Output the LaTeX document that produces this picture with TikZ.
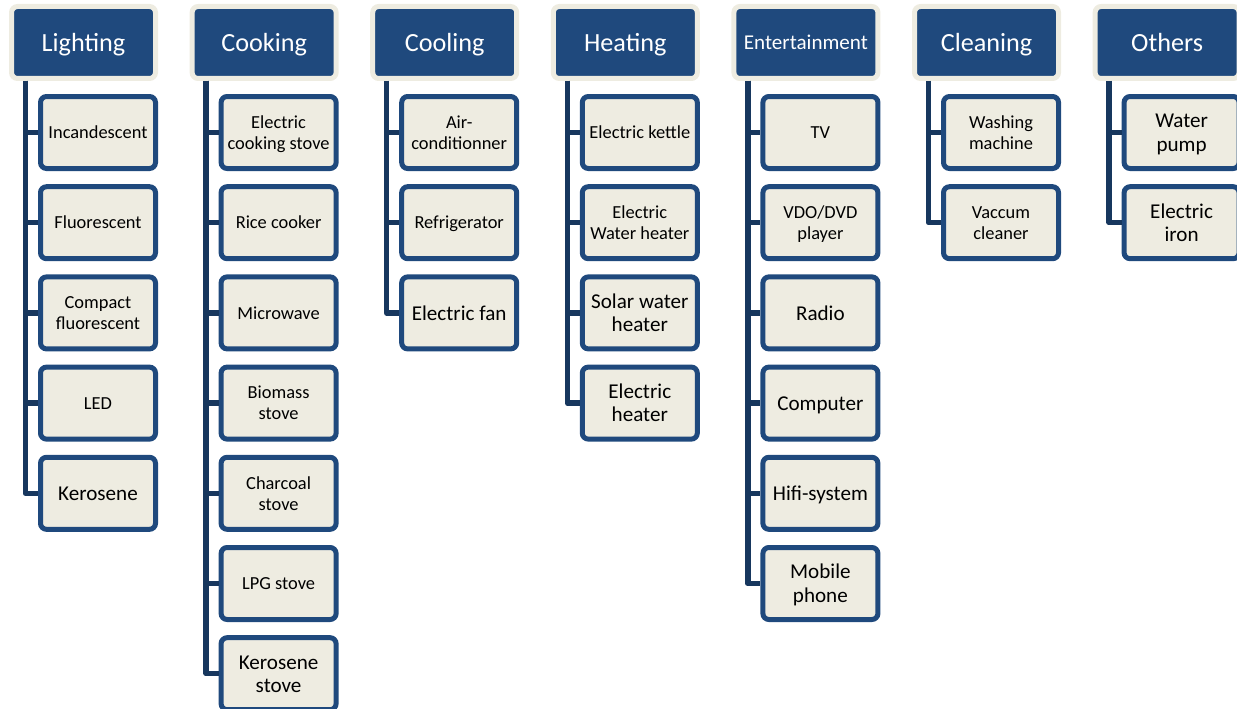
\documentclass[tikz,border=0pt]{standalone}
\usepackage{fontspec}
\setmainfont{Carlito}
\definecolor{navy}{RGB}{31,73,125}
\definecolor{paper}{RGB}{238,236,225}
\definecolor{trunk}{RGB}{23,55,94}
\newcommand\txtS{\fontsize{18.4}{21}\selectfont}
\newcommand\txtL{\fontsize{21.1}{23.4}\selectfont}
\newcommand\txtH{\fontsize{26.2}{30}\selectfont}
\newcommand\txtE{\fontsize{21.1}{24}\selectfont}
% struts that give every label the same ascent and descent
\newcommand\topstrut{\rule{0pt}{0.92em}}
\newcommand\botstrut{\rule[-0.24em]{0pt}{0.24em}}
\tikzset{
  category/.style={draw=paper, fill=navy, line width=5pt, rounded corners=6pt,
    minimum width=144pt, minimum height=72pt, inner sep=0pt, text=white, align=center},
  device/.style={draw=navy, fill=paper, line width=5pt, rounded corners=6pt,
    minimum width=115pt, minimum height=72pt, inner sep=0pt, text=black, align=center},
  branch/.style={draw=trunk, line width=5.5pt, line join=round},
}
% \category{name}{column}{font}{text}
\newcommand\category[4]{%
  \node[category, font=#3] (#1) at ({9+180.6*#2+74.5},42.5) {\topstrut#4\botstrut};}
% \device{name}{parent}{column}{row}{font}{text}
\newcommand\device[6]{%
  \node[device, font=#5] (#1) at ({9+180.6*#3+89},{132.5+90.2*#4}) {\topstrut#6\botstrut};
  \draw[branch] ([xshift=-58pt]#2.south) |- (#1.west);}
\begin{document}
\begin{tikzpicture}[x=1pt, y=-1pt]
\useasboundingbox (0,0) rectangle (1237,709);
\clip (0,0) rectangle (1237,709);

% categories
\category{lighting}{0}{\txtH}{Lighting}
\category{cooking}{1}{\txtH}{Cooking}
\category{cooling}{2}{\txtH}{Cooling}
\category{heating}{3}{\txtH}{Heating}
\category{entertain}{4}{\txtE}{Entertainment}
\category{cleaning}{5}{\txtH}{Cleaning}
\category{others}{6}{\txtH}{Others}

% lighting
\device{incand}{lighting}{0}{0}{\txtS}{Incandescent}
\device{fluo}{lighting}{0}{1}{\txtS}{Fluorescent}
\device{cfl}{lighting}{0}{2}{\txtS}{Compact\\fluorescent}
\device{led}{lighting}{0}{3}{\txtS}{LED}
\device{kerolamp}{lighting}{0}{4}{\txtL}{Kerosene}

% cooking
\device{estove}{cooking}{1}{0}{\txtS}{Electric\\cooking stove}
\device{rice}{cooking}{1}{1}{\txtS}{Rice cooker}
\device{micro}{cooking}{1}{2}{\txtS}{Microwave}
\device{biomass}{cooking}{1}{3}{\txtS}{Biomass\\stove}
\device{charcoal}{cooking}{1}{4}{\txtS}{Charcoal\\stove}
\device{lpg}{cooking}{1}{5}{\txtS}{LPG stove}
\device{kerostove}{cooking}{1}{6}{\txtL}{Kerosene\\stove}

% cooling
\device{aircon}{cooling}{2}{0}{\txtS}{Air-\\conditionner}
\device{fridge}{cooling}{2}{1}{\txtS}{Refrigerator}
\device{fan}{cooling}{2}{2}{\txtL}{Electric fan}

% heating
\device{kettle}{heating}{3}{0}{\txtS}{Electric kettle}
\device{ewater}{heating}{3}{1}{\txtS}{Electric\\Water heater}
\device{solar}{heating}{3}{2}{\txtL}{Solar water\\heater}
\device{eheater}{heating}{3}{3}{\txtL}{Electric\\heater}

% entertainment
\device{tv}{entertain}{4}{0}{\txtS}{TV}
\device{dvd}{entertain}{4}{1}{\txtS}{VDO/DVD\\player}
\device{radio}{entertain}{4}{2}{\txtL}{Radio}
\device{computer}{entertain}{4}{3}{\txtL}{Computer}
\device{hifi}{entertain}{4}{4}{\txtL}{Hifi-system}
\device{mobile}{entertain}{4}{5}{\txtL}{Mobile\\phone}

% cleaning
\device{washer}{cleaning}{5}{0}{\txtS}{Washing\\machine}
\device{vacuum}{cleaning}{5}{1}{\txtS}{Vaccum\\cleaner}

% others
\device{pump}{others}{6}{0}{\txtL}{Water\\pump}
\device{iron}{others}{6}{1}{\txtL}{Electric\\iron}
\end{tikzpicture}
\end{document}
